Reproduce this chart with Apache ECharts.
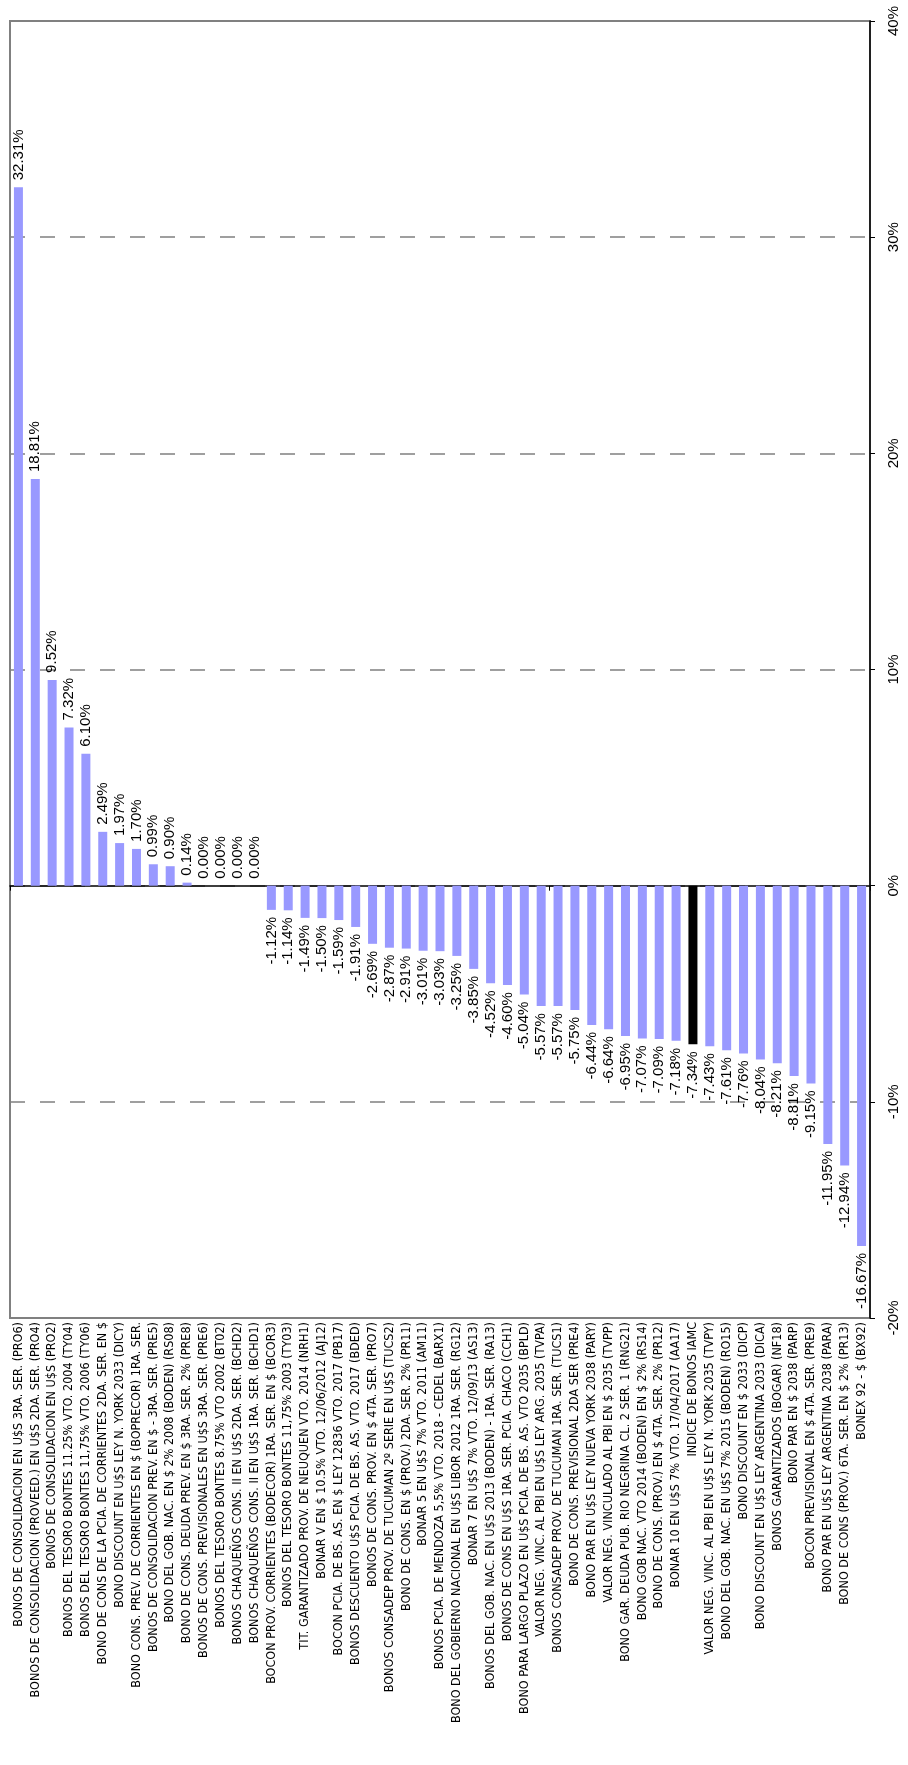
<!DOCTYPE html>
<html>
<head>
<meta charset="utf-8">
<script src="https://cdn.jsdelivr.net/npm/echarts@6/dist/echarts.min.js"></script>
<style>
html,body{margin:0;padding:0;background:#fff;}
#chart{width:908px;height:1765px;}
</style>
</head>
<body>
<div id="chart"></div>
<script>
const categories = [
  "BONOS DE CONSOLIDACION EN U$S 3RA. SER. (PRO6)",
  "BONOS DE CONSOLIDACION (PROVEED.) EN U$S 2DA. SER. (PRO4)",
  "BONOS DE CONSOLIDACION EN U$S (PRO2)",
  "BONOS DEL TESORO BONTES 11.25% VTO. 2004 (TY04)",
  "BONOS DEL TESORO BONTES 11,75% VTO. 2006 (TY06)",
  "BONO DE CONS DE LA PCIA. DE CORRIENTES 2DA. SER. EN $",
  "BONO DISCOUNT EN U$S LEY N. YORK 2033 (DICY)",
  "BONO CONS. PREV. DE CORRIENTES EN $ (BOPRECOR) 1RA. SER.",
  "BONOS DE CONSOLIDACION PREV. EN $ - 3RA. SER. (PRE5)",
  "BONO DEL GOB. NAC. EN $ 2% 2008 (BODEN) (RS08)",
  "BONO DE CONS. DEUDA PREV. EN $ 3RA. SER. 2% (PRE8)",
  "BONOS DE CONS. PREVISIONALES EN U$S 3RA. SER. (PRE6)",
  "BONOS DEL TESORO BONTES 8.75% VTO 2002 (BT02)",
  "BONOS CHAQUEÑOS CONS. II EN U$S 2DA. SER. (BCHD2)",
  "BONOS CHAQUEÑOS CONS. II EN U$S 1RA. SER. (BCHD1)",
  "BOCON PROV. CORRIENTES (BODECOR) 1RA. SER. EN $ (BCOR3)",
  "BONOS DEL TESORO BONTES 11,75% 2003 (TY03)",
  "TIT. GARANTIZADO PROV. DE NEUQUEN VTO. 2014 (NRH1)",
  "BONAR V EN $ 10.5% VTO. 12/06/2012 (AJ12)",
  "BOCON PCIA. DE BS. AS. EN $ LEY 12836 VTO. 2017 (PB17)",
  "BONOS DESCUENTO U$S PCIA. DE BS. AS. VTO. 2017 (BDED)",
  "BONOS DE CONS. PROV. EN $ 4TA. SER. (PRO7)",
  "BONOS CONSADEP PROV. DE TUCUMAN 2º SERIE EN U$S (TUCS2)",
  "BONO DE CONS. EN $ (PROV.) 2DA. SER. 2% (PR11)",
  "BONAR 5 EN U$S 7% VTO. 2011 (AM11)",
  "BONOS PCIA. DE MENDOZA 5,5% VTO. 2018 - CEDEL (BARX1)",
  "BONO DEL GOBIERNO NACIONAL EN U$S LIBOR 2012 1RA. SER. (RG12)",
  "BONAR 7 EN U$S 7% VTO. 12/09/13 (AS13)",
  "BONOS DEL GOB. NAC. EN U$S 2013 (BODEN) - 1RA. SER. (RA13)",
  "BONOS DE CONS EN U$S 1RA. SER. PCIA. CHACO (CCH1)",
  "BONO PARA LARGO PLAZO EN U$S PCIA. DE BS. AS. VTO 2035 (BPLD)",
  "VALOR NEG. VINC. AL PBI EN U$S LEY ARG. 2035 (TVPA)",
  "BONOS CONSADEP PROV. DE TUCUMAN 1RA. SER. (TUCS1)",
  "BONO DE CONS. PREVISIONAL 2DA SER (PRE4)",
  "BONO PAR EN U$S LEY NUEVA YORK 2038 (PARY)",
  "VALOR NEG. VINCULADO AL PBI EN $ 2035 (TVPP)",
  "BONO GAR. DEUDA PUB. RIO NEGRINA CL. 2 SER. 1 (RNG21)",
  "BONO GOB NAC. VTO 2014 (BODEN) EN $ 2% (RS14)",
  "BONO DE CONS. (PROV.) EN $ 4TA. SER. 2% (PR12)",
  "BONAR 10 EN U$S 7% VTO. 17/04/2017 (AA17)",
  "INDICE DE BONOS IAMC",
  "VALOR NEG. VINC. AL PBI EN U$S LEY N. YORK 2035 (TVPY)",
  "BONO DEL GOB. NAC. EN U$S 7% 2015 (BODEN) (RO15)",
  "BONO DISCOUNT EN $ 2033 (DICP)",
  "BONO DISCOUNT EN U$S LEY ARGENTINA 2033 (DICA)",
  "BONOS GARANTIZADOS (BOGAR) (NF18)",
  "BONO PAR EN $ 2038 (PARP)",
  "BOCON PREVISIONAL EN $ 4TA. SER. (PRE9)",
  "BONO PAR EN U$S LEY ARGENTINA 2038 (PARA)",
  "BONO DE CONS (PROV.) 6TA. SER. EN $ 2% (PR13)",
  "BONEX 92 - $ (BX92)"
];

const returns = [
  32.31, 18.81, 9.52, 7.32, 6.10, 2.49, 1.97, 1.70, 0.99, 0.90,
  0.14, 0.00, 0.00, 0.00, 0.00, -1.12, -1.14, -1.49, -1.50, -1.59,
  -1.91, -2.69, -2.87, -2.91, -3.01, -3.03, -3.25, -3.85, -4.52, -4.60,
  -5.04, -5.57, -5.57, -5.75, -6.44, -6.64, -6.95, -7.07, -7.09, -7.18,
  -7.34, -7.43, -7.61, -7.76, -8.04, -8.21, -8.81, -9.15, -11.95, -12.94,
  -16.67
];

const highlightCategory = "INDICE DE BONOS IAMC";

const valueTicks = { min: -20, max: 40, interval: 10 };

const barColor = '#9999FF';
const highlightColor = '#000000';

const seriesData = returns.map((v, i) => {
  const pos = v >= 0;
  return {
    value: v,
    itemStyle: { color: categories[i] === highlightCategory ? highlightColor : barColor },
    label: pos
      ? { position: 'top', rotate: 90, align: 'left', verticalAlign: 'middle', distance: 7 }
      : { position: 'bottom', rotate: 90, align: 'right', verticalAlign: 'middle', distance: 7 }
  };
});

const chart = echarts.init(document.getElementById('chart'), null, { renderer: 'canvas' });

chart.setOption({
  backgroundColor: '#ffffff',
  animation: false,
  grid: {
    left: 10, right: 38, top: 21, bottom: 447,
    show: true, borderColor: '#808080', borderWidth: 2, backgroundColor: 'transparent'
  },
  xAxis: [
    {
      type: 'category',
      data: categories,
      position: 'bottom',
      axisLine: { onZero: true, lineStyle: { color: '#000', width: 1.5 } },
      axisTick: { show: true, length: 5, lineStyle: { color: '#000', width: 1 } },
      axisLabel: { show: false },
      splitLine: { show: false }
    },
    {
      type: 'category',
      data: categories,
      position: 'bottom',
      axisLine: { show: false, onZero: false },
      axisTick: { show: false },
      splitLine: { show: false },
      axisLabel: {
        show: true,
        interval: 0,
        rotate: 90,
        margin: 4,
        color: '#000',
        fontSize: 12.5,
        fontFamily: "'Liberation Sans Narrow', 'Arial Narrow', 'DejaVu Sans Condensed', Arial, sans-serif"
      }
    }
  ],
  yAxis: {
    type: 'value',
    position: 'right',
    min: valueTicks.min,
    max: valueTicks.max,
    interval: valueTicks.interval,
    axisLine: { show: true, lineStyle: { color: '#000', width: 1.5 } },
    axisTick: { show: true, length: 5, lineStyle: { color: '#000' } },
    axisLabel: {
      formatter: '{value}%',
      rotate: 90,
      align: 'center',
      verticalAlign: 'top',
      margin: 16,
      color: '#000',
      fontSize: 15,
      fontFamily: 'Arial, "Liberation Sans", sans-serif'
    },
    splitLine: {
      show: true,
      lineStyle: { color: '#808080', width: 1.5, type: [15, 15] }
    }
  },
  series: [{
    type: 'bar',
    xAxisIndex: 0,
    yAxisIndex: 0,
    data: seriesData,
    barWidth: 9,
    label: {
      show: true,
      formatter: p => p.value.toFixed(2) + '%',
      color: '#000',
      fontSize: 15,
      fontFamily: 'Arial, "Liberation Sans", sans-serif'
    }
  }]
});
</script>
</body>
</html>
